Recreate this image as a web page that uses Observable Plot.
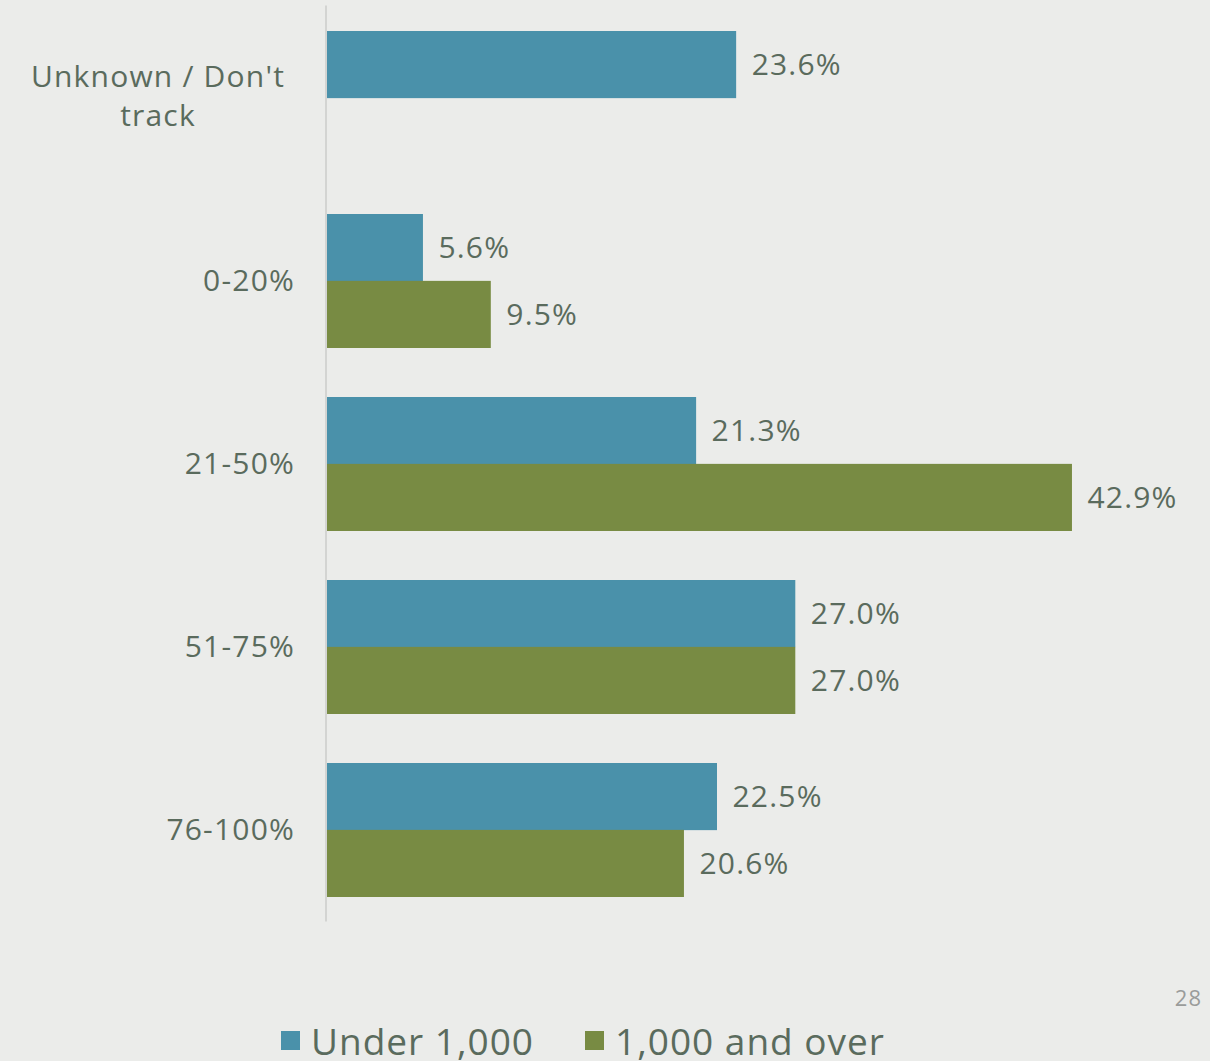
<!DOCTYPE html>
<html>
<head>
<meta charset="utf-8">
<script src="https://cdn.jsdelivr.net/npm/d3@7"></script>
<script src="https://cdn.jsdelivr.net/npm/@observablehq/plot@0.6"></script>
<style>
  html, body { margin: 0; padding: 0; background: #EBECEA; }
  #wrap { position: relative; width: 1210px; height: 1061px; overflow: hidden; background: #EBECEA; font-family: "Open Sans", sans-serif; color: #5A6B5D; }
  #chart svg text { letter-spacing: 1.2px; }
  #page { position: absolute; right: 8px; top: 982px; font-size: 22px; letter-spacing: 1px; color: #9A9C9A; }
  #legend { position: absolute; left: 281px; top: 1022px; display: flex; align-items: center; font-size: 37px; letter-spacing: 1px; line-height: 1; white-space: nowrap; }
  .sw { display: inline-block; width: 19px; height: 19px; margin-right: 11px; }
  .item { display: flex; align-items: center; margin-right: 51px; }
</style>
</head>
<body>
<div id="wrap">
  <div id="chart"></div>
  <div id="page">28</div>
  <div id="legend"></div>
</div>
<script>
const categories = ["Unknown / Don't\ntrack", "0-20%", "21-50%", "51-75%", "76-100%"];
const under1000 = [23.6, 5.6, 21.3, 27.0, 22.5];
const over1000 = [null, 9.5, 42.9, 27.0, 20.6];
const seriesNames = ["Under 1,000", "1,000 and over"];
const seriesColors = ["#4A91AA", "#788B43"];

const rowsUnder = categories.map((c, i) => ({category: c, value: under1000[i]}));
const rowsOver = categories.map((c, i) => ({category: c, value: over1000[i]})).filter(d => d.value != null);

const W = 1210, H = 960;
const mTop = 5.5, mBottom = H - 921.5, mLeft = 325.5, mRight = 14.5;
const pInner = 0.27, pOuter = 0.135;
const step = (H - mTop - mBottom) / (categories.length - pInner + 2 * pOuter);
const bw = step * (1 - pInner);
const half = bw / 2;
const textColor = "#5A6B5D";
const fontFamily = "'Open Sans', sans-serif";
const fs = 30;

const chart = Plot.plot({
  width: W,
  height: H,
  marginTop: mTop,
  marginBottom: mBottom,
  marginLeft: mLeft,
  marginRight: mRight,
  style: {background: "transparent", fontFamily, color: textColor},
  x: {domain: [0, 50], axis: null},
  y: {domain: categories, paddingInner: pInner, paddingOuter: pOuter, axis: null},
  marks: [
    Plot.barX(rowsUnder, {x: "value", y: "category", fill: seriesColors[0], insetBottom: half}),
    Plot.barX(rowsOver, {x: "value", y: "category", fill: seriesColors[1], insetTop: half}),
    Plot.ruleX([0], {stroke: "#D3D4D2", strokeWidth: 2}),
    Plot.text(rowsUnder, {x: "value", y: "category", text: d => d.value.toFixed(1) + "%", dy: -half / 2, dx: 15, textAnchor: "start", fontSize: fs, fill: textColor}),
    Plot.text(rowsOver, {x: "value", y: "category", text: d => d.value.toFixed(1) + "%", dy: half / 2, dx: 15, textAnchor: "start", fontSize: fs, fill: textColor}),
    Plot.axisY(categories.slice(1), {tickSize: 0, tickPadding: 31, fontSize: fs, fill: textColor, textAnchor: "end", label: null}),
    Plot.axisY(categories.slice(0, 1), {tickSize: 0, tickPadding: 168, fontSize: fs, fill: textColor, textAnchor: "middle", lineHeight: 1.3, dy: -4, label: null})
  ]
});
document.getElementById("chart").appendChild(chart);

const legend = document.getElementById("legend");
seriesNames.forEach((name, i) => {
  const item = document.createElement("span");
  item.className = "item";
  const sw = document.createElement("span");
  sw.className = "sw";
  sw.style.background = seriesColors[i];
  item.appendChild(sw);
  item.appendChild(document.createTextNode(name));
  legend.appendChild(item);
});
</script>
</body>
</html>
